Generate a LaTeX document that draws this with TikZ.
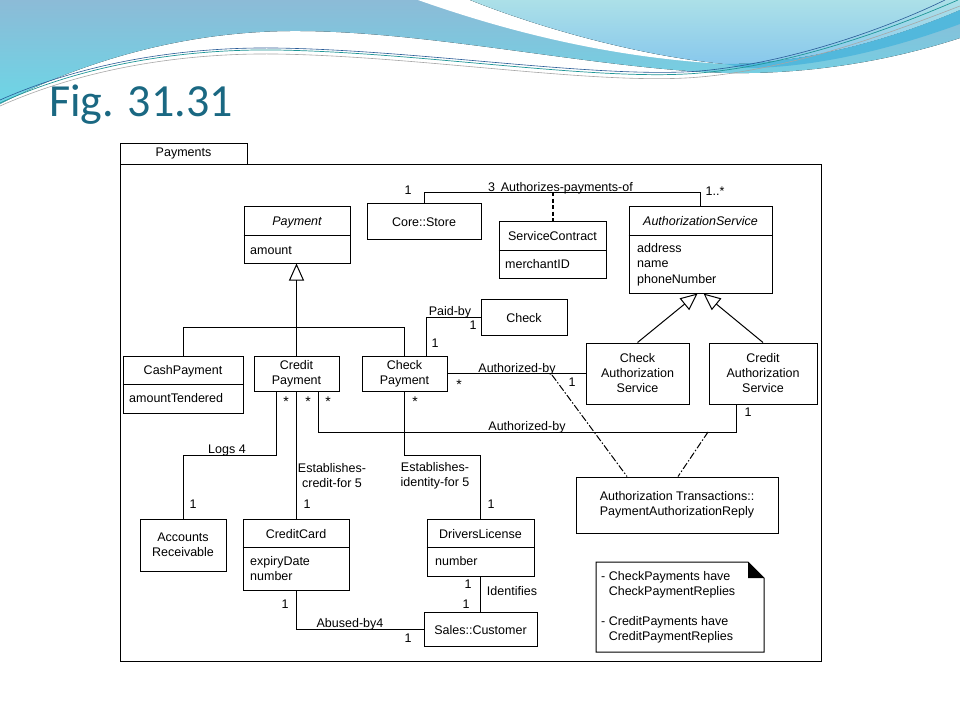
\documentclass[tikz,border=0pt]{standalone}
\usepackage{fontspec}
\setmainfont{Liberation Sans}
\newfontfamily\titlefont{Carlito}
\usetikzlibrary{arrows.meta}
\definecolor{titlecol}{RGB}{26,104,130}
\definecolor{bgAa}{RGB}{140,187,215}
\definecolor{bgAb}{RGB}{108,214,230}
\definecolor{bgCa}{RGB}{172,224,232}
\definecolor{bgCb}{RGB}{136,200,236}
\definecolor{bgD}{RGB}{82,184,220}
\definecolor{lineA}{RGB}{30,150,150}
\definecolor{lineB}{RGB}{40,90,150}
\newcommand{\dfont}{\fontsize{12.5}{15}\selectfont}
\begin{document}
\begin{tikzpicture}[x=1pt,y=-1pt,
  conn/.style={line width=1pt},
  box/.style={draw, line width=1pt, fill=white, inner sep=0pt, align=center, font=\dfont},
  lbl/.style={inner sep=0pt, font=\dfont, text height=9pt, text depth=0pt},
  star/.style={lbl, font=\fontsize{14}{14}\selectfont},
  mlbl/.style={inner sep=0pt, font=\dfont, align=center},
  dep/.style={line width=1pt, dash pattern=on 7pt off 2pt on 1.5pt off 2pt},
  gen/.style={conn, -{Triangle[open, length=17pt, width=15pt, line width=1pt]}},
]
\useasboundingbox (0,0) rectangle (960,720);
\fill[white] (0,0) rectangle (960,720);

% ---- slide background waves
\fill[top color=bgAa, bottom color=bgAb] (0,0) -- (960,0) -- (960,38)
  .. controls (880,64) and (800,74) .. (730,73)
  .. controls (600,70) and (430,30) .. (290,31)
  .. controls (170,32) and (70,68) .. (0,104) -- cycle;
\fill[white] (418,0) -- (470,0) .. controls (540,28) and (640,56) .. (725,64)
  .. controls (620,58) and (520,36) .. (418,0) -- cycle;
\fill[top color=bgCa, bottom color=bgCb] (470,0) .. controls (540,28) and (640,56) .. (725,64)
  .. controls (810,64) and (900,36) .. (960,10) -- (960,0) -- cycle;
\fill[bgD] (725,64) .. controls (810,64) and (900,36) .. (960,10) -- (960,24)
  .. controls (900,46) and (820,68) .. (745,68) -- cycle;
\draw[line width=0.7pt, lineA] (0,103) .. controls (90,62) and (190,49) .. (275,50)
  .. controls (420,52) and (600,82) .. (700,73) .. controls (800,64) and (900,25) .. (958,0);
\draw[line width=0.6pt, gray!70] (0,106) .. controls (90,66) and (190,53) .. (275,54)
  .. controls (420,56) and (600,86) .. (700,77) .. controls (800,68) and (900,29) .. (960,6);
\draw[line width=0.6pt, lineB] (0,100) .. controls (90,60) and (190,47) .. (275,48)
  .. controls (420,50) and (600,79) .. (700,71) .. controls (800,62) and (900,22) .. (945,0);

\node[anchor=base west, inner sep=0pt, font=\titlefont\fontsize{46}{50}\selectfont, text=titlecol] (title) at (49,116) {Fig. 31.31};

% ---- package
\node[box, minimum width=127, minimum height=21] (pkgtab) at (183.5,153.5) {Payments};
\node[box, minimum width=701, minimum height=497] (pkg) at (470.5,412.5) {};

% ---- class boxes
\node[box, minimum width=106, minimum height=57] (payment) at (297,234.5) {};
\node[box, minimum width=114, minimum height=36] (store) at (424,221) {};
\node[box, minimum width=107, minimum height=57] (sc) at (552.5,249.5) {};
\node[box, minimum width=143, minimum height=87] (authsvc) at (700.5,249.5) {};
\node[box, minimum width=86, minimum height=36] (checkbox) at (524,317) {};
\node[box, minimum width=120, minimum height=57] (cash) at (183,384.5) {};
\node[box, minimum width=85, minimum height=35] (credit) at (296.5,373.5) {Credit\\Payment};
\node[box, minimum width=85, minimum height=35] (checkpay) at (404.5,373.5) {Check\\Payment};
\node[box, minimum width=103, minimum height=61] (checkauth) at (637.5,373.5) {Check\\Authorization\\Service};
\node[box, minimum width=108, minimum height=61] (creditauth) at (763,373.5) {Credit\\Authorization\\Service};
\node[box, minimum width=86, minimum height=52] (ar) at (183,545) {Accounts\\Receivable};
\node[box, minimum width=106, minimum height=71] (cc) at (296,554.5) {};
\node[box, minimum width=107, minimum height=57] (dl) at (480.5,547.5) {};
\node[box, minimum width=113, minimum height=34] (cust) at (480.5,629) {};
\node[box, minimum width=202, minimum height=56] (atx) at (677,505) {Authorization Transactions::\\PaymentAuthorizationReply};

% compartment dividers
\draw[conn] (payment.west |- 0,235) -- (payment.east |- 0,235);
\draw[conn] (sc.west |- 0,250) -- (sc.east |- 0,250);
\draw[conn] (authsvc.west |- 0,235) -- (authsvc.east |- 0,235);
\draw[conn] (cash.west |- 0,384) -- (cash.east |- 0,384);
\draw[conn] (cc.west |- 0,547) -- (cc.east |- 0,547);
\draw[conn] (dl.west |- 0,547) -- (dl.east |- 0,547);

% class texts
\node[lbl, font=\dfont\itshape] (t-payment) at (297,221) {Payment};
\node[lbl, anchor=west] (t-amount) at (250,250) {amount};
\node[lbl] (t-store) at (424,222) {Core::Store};
\node[lbl] (t-sc) at (552.5,236) {ServiceContract};
\node[lbl, anchor=west] (t-merch) at (505,264) {merchantID};
\node[lbl, font=\dfont\itshape] (t-auth) at (700.5,221) {AuthorizationService};
\node[lbl, anchor=west] (t-addr) at (637,248) {address};
\node[lbl, anchor=west] (t-name) at (637,263) {name};
\node[lbl, anchor=west] (t-phone) at (637,278.5) {phoneNumber};
\node[lbl] (t-check) at (524,318) {Check};
\node[lbl] (t-cash) at (183,370) {CashPayment};
\node[lbl, anchor=west] (t-tend) at (129,398) {amountTendered};
\node[lbl] (t-cc) at (296,534) {CreditCard};
\node[lbl, anchor=west] (t-exp) at (250,561) {expiryDate};
\node[lbl, anchor=west] (t-num) at (250,576) {number};
\node[lbl] (t-dl) at (480.5,534) {DriversLicense};
\node[lbl, anchor=west] (t-dlnum) at (435,561) {number};
\node[lbl] (t-cust) at (480.5,630) {Sales::Customer};

% ---- connection points
\coordinate (cpL) at ([xshift=-20.5pt]credit.south);
\coordinate (cpR) at ([xshift=21.5pt]credit.south);
\coordinate (caB) at ([xshift=-27pt]creditauth.south);
\coordinate (ckT) at ([xshift=21.5pt]checkpay.north);
\coordinate (d1) at (552,375);
\coordinate (d2) at (708,432);

% ---- connectors
\draw[gen] (credit.north) -- (credit.north |- payment.south);
\draw[conn] (cash.north) |- (checkpay.north |- 0,327) -- (checkpay.north);
\draw[conn] (store.north) |- (authsvc.north |- 0,192) -- (authsvc.north);
\draw[line width=2pt, dash pattern=on 4pt off 2.5pt] (sc.north |- 0,192) -- (sc.north);
\draw[conn] (ckT) |- (checkbox.west);
\draw[conn] (checkpay.east) -- (checkauth.west);
\draw[gen] (checkauth.north) -- ([xshift=-3pt]authsvc.south);
\draw[gen] (creditauth.north) -- ([xshift=3pt]authsvc.south);
\draw[conn] (cpL) -- (cpL |- 0,455) -| (ar.north);
\draw[conn] (credit.south) -- (credit.south |- cc.north);
\draw[conn] (cpR) -- (cpR |- 0,432) -| (caB);
\draw[conn] (checkpay.south) -- (checkpay.south |- 0,455) -| (dl.north);
\draw[conn] (dl.south) -- (cust.north);
\draw[conn] (cc.south) |- (cust.west);
\draw[dep] (d1) -- ([xshift=-50pt]atx.north);
\draw[dep] (d2) -- ([xshift=1pt]atx.north);

% ---- association labels
\node[lbl] (l1) at (408,190) {1};
\node[lbl, anchor=west] (l2) at (488,187) {3\hspace{0.45em}Authorizes-payments-of};
\node[lbl] (l3) at (715,191) {1..*};
\node[lbl] (l4) at (450,311) {Paid-by};
\node[lbl] (l5) at (473,325) {1};
\node[lbl] (l6) at (435,343) {1};
\node[lbl] (l7) at (517,368) {Authorized-by};
\node[star] (l8) at (459,384.5) {*};
\node[lbl] (l9) at (572,382) {1};
\node[star] (l10) at (286,401.5) {*};
\node[star] (l11) at (308,401.5) {*};
\node[star] (l12) at (328,401.5) {*};
\node[star] (l13) at (415,401.5) {*};
\node[lbl] (l14) at (748,412) {1};
\node[lbl] (l15) at (527,426) {Authorized-by};
\node[lbl] (l16) at (227,449) {Logs 4};
\node[mlbl] (l17) at (332,476) {Establishes-\\credit-for 5};
\node[mlbl] (l18) at (435,476) {Establishes-\\identity-for 5};
\node[lbl] (l19) at (193,504) {1};
\node[lbl] (l20) at (307,504) {1};
\node[lbl] (l21) at (491,504) {1};
\node[lbl] (l22) at (468,584) {1};
\node[lbl] (l23) at (466,604) {1};
\node[lbl] (l24) at (512,591) {Identifies};
\node[lbl] (l25) at (285,604) {1};
\node[lbl] (l26) at (350,623) {Abused-by4};
\node[lbl] (l27) at (408,638) {1};

% ---- note
\draw[line width=1pt, fill=white] (596,562) -- (748,562) -- (764,578) -- (764,652) -- (596,652) -- cycle;
\fill (748,562) -- (764,578) -- (748,578) -- cycle;
\node[lbl, anchor=west] (n1) at (601,576) {- CheckPayments have};
\node[lbl, anchor=west] (n2) at (608.6,591) {CheckPaymentReplies};
\node[lbl, anchor=west] (n3) at (601,621) {- CreditPayments have};
\node[lbl, anchor=west] (n4) at (608.6,636) {CreditPaymentReplies};
\end{tikzpicture}
\end{document}
